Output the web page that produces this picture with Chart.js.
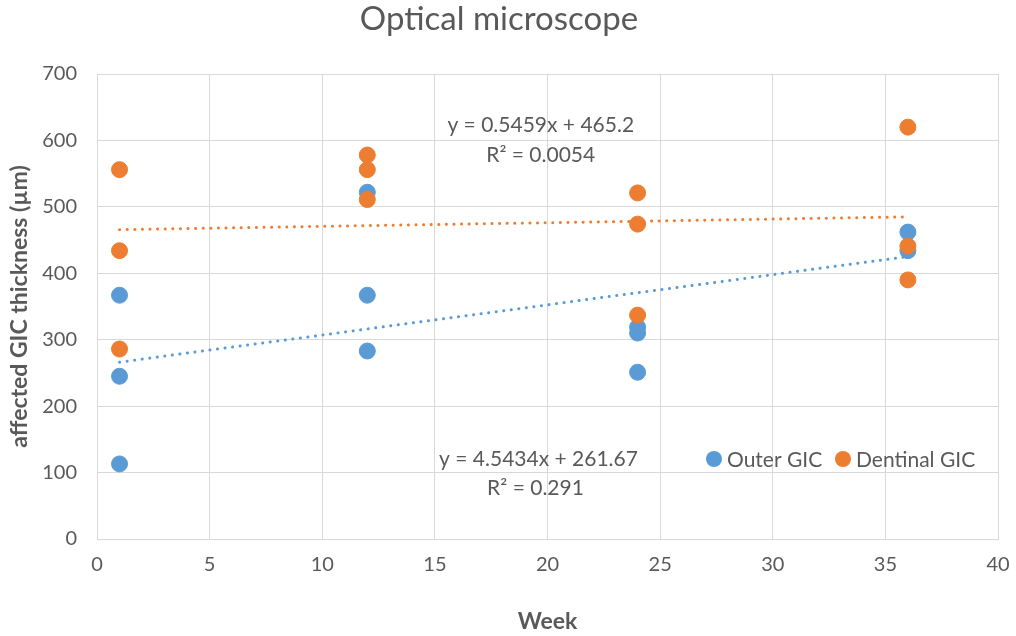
<!DOCTYPE html>
<html>
<head>
<meta charset="utf-8">
<script src="https://cdn.jsdelivr.net/npm/chart.js@4.4.0/dist/chart.umd.min.js"></script>
<style>
  html, body { margin: 0; padding: 0; background: #fff; }
  #wrap { width: 1016px; height: 636px; }
</style>
</head>
<body>
<div id="wrap"><canvas id="scatterChart"></canvas></div>
<script>
// ================= DATA =================

const outerWeeks = [1, 1, 1, 12, 12, 12, 24, 24, 24, 36, 36];
const outerValues = [113, 245, 367, 522, 367, 283, 319, 310, 251, 462, 434];

const dentinalWeeks = [1, 1, 1, 12, 12, 12, 24, 24, 24, 36, 36, 36];
const dentinalValues = [556, 434, 286, 578, 556, 511, 521, 474, 337, 620, 441, 390];

// trendline end points (x = 1 and x = 36)
const trendWeeks = [1, 36];
const outerTrend = [266.2, 425.2];
const dentinalTrend = [465.7, 484.9];

const outerEquation = ["y = 4.5434x + 261.67", "R² = 0.291"];
const dentinalEquation = ["y = 0.5459x + 465.2", "R² = 0.0054"];

const xTicks = [0, 5, 10, 15, 20, 25, 30, 35, 40];
const yTicks = [0, 100, 200, 300, 400, 500, 600, 700];

const BLUE = "#5b9bd5";
const ORANGE = "#ed7d31";
const TEXT = "#595959";
const FONT = "Lato, 'Liberation Sans', sans-serif";

function toPoints(xs, ys){
    return xs.map((x, i) => ({ x: x, y: ys[i] }));
}

// ================= PLUGINS =================

// equation labels, placed in data coordinates
const equationPlugin = {
    id: "equations",
    afterDatasetsDraw(chart){
        const ctx = chart.ctx;
        const xs = chart.scales.x;
        const ys = chart.scales.y;
        ctx.save();
        ctx.fillStyle = TEXT;
        ctx.font = "21px " + FONT;
        ctx.textAlign = "center";
        ctx.textBaseline = "middle";

        let cx = xs.getPixelForValue(19.7);
        let cy = ys.getPixelForValue(623);
        ctx.fillText(dentinalEquation[0], cx, cy);
        ctx.fillText(dentinalEquation[1], cx, cy + 30);

        cx = xs.getPixelForValue(19.6);
        cy = ys.getPixelForValue(120);
        ctx.fillText(outerEquation[0], cx, cy);
        ctx.fillText(outerEquation[1], cx - 3, cy + 29);
        ctx.restore();
    }
};

// legend drawn inside the plot, bottom right
const insideLegend = {
    id: "insideLegend",
    afterDatasetsDraw(chart){
        const ctx = chart.ctx;
        const items = [
            { label: "Outer GIC", color: BLUE, x: 714 },
            { label: "Dentinal GIC", color: ORANGE, x: 843 }
        ];
        const y = 459;
        ctx.save();
        ctx.font = "21px " + FONT;
        ctx.textBaseline = "middle";
        ctx.textAlign = "left";
        items.forEach(item => {
            ctx.fillStyle = item.color;
            ctx.beginPath();
            ctx.arc(item.x, y, 8, 0, Math.PI * 2);
            ctx.fill();
            ctx.fillStyle = TEXT;
            ctx.fillText(item.label, item.x + 13, y + 1);
        });
        ctx.restore();
    }
};

// ================= CHART =================

const ctx = document.getElementById("scatterChart");

new Chart(ctx, {
    type: "scatter",
    data: {
        datasets: [
            {
                label: "Outer GIC",
                data: toPoints(outerWeeks, outerValues),
                backgroundColor: BLUE,
                borderColor: BLUE,
                pointRadius: 8,
                pointHoverRadius: 8,
                order: 2
            },
            {
                label: "Dentinal GIC",
                data: toPoints(dentinalWeeks, dentinalValues),
                backgroundColor: ORANGE,
                borderColor: ORANGE,
                pointRadius: 8,
                pointHoverRadius: 8,
                order: 1
            },
            {
                label: "Outer trend",
                type: "line",
                data: toPoints(trendWeeks, outerTrend),
                borderColor: BLUE,
                borderWidth: 3,
                borderDash: [0.1, 7.5],
                borderCapStyle: "round",
                pointRadius: 0,
                fill: false,
                order: 0
            },
            {
                label: "Dentinal trend",
                type: "line",
                data: toPoints(trendWeeks, dentinalTrend),
                borderColor: ORANGE,
                borderWidth: 3,
                borderDash: [0.1, 7.5],
                borderCapStyle: "round",
                pointRadius: 0,
                fill: false,
                order: 0
            }
        ]
    },
    options: {
        responsive: true,
        maintainAspectRatio: false,
        animation: false,
        layout: { padding: { left: 0, right: 18, top: 0, bottom: 0 } },
        plugins: {
            legend: { display: false },
            tooltip: { enabled: false },
            title: {
                display: true,
                text: "Optical microscope",
                color: TEXT,
                font: { family: FONT, size: 33, weight: "normal", lineHeight: 1.2 },
                padding: { top: 0, bottom: 34.4 }
            }
        },
        scales: {
            x: {
                type: "linear",
                min: 0,
                max: 40,
                afterBuildTicks(scale){
                    scale.ticks = xTicks.map(v => ({ value: v }));
                },
                afterFit(scale){
                    scale.height = 97;
                    scale.paddingLeft = 0;
                    scale.paddingRight = 0;
                },
                grid: { color: "#d9d9d9", lineWidth: 1, drawTicks: false },
                border: { color: "#d9d9d9" },
                ticks: {
                    color: TEXT,
                    font: { family: FONT, size: 20 },
                    padding: 14
                },
                title: {
                    display: true,
                    text: "Week",
                    color: TEXT,
                    font: { family: FONT, size: 23, weight: "bold" },
                    padding: { top: 0, bottom: 1 }
                }
            },
            y: {
                type: "linear",
                min: 0,
                max: 700,
                afterBuildTicks(scale){
                    scale.ticks = yTicks.map(v => ({ value: v }));
                },
                afterFit(scale){
                    scale.width = 97;
                    scale.paddingTop = 0;
                    scale.paddingBottom = 0;
                },
                grid: { color: "#d9d9d9", lineWidth: 1, drawTicks: false },
                border: { color: "#d9d9d9" },
                ticks: {
                    color: TEXT,
                    font: { family: FONT, size: 20 },
                    padding: 20
                },
                title: {
                    display: true,
                    text: "affected GIC thickness (µm)",
                    color: TEXT,
                    font: { family: FONT, size: 23, weight: "bold" },
                    padding: { top: 6, bottom: 0 }
                }
            }
        }
    },
    plugins: [equationPlugin, insideLegend]
});
</script>
</body>
</html>
